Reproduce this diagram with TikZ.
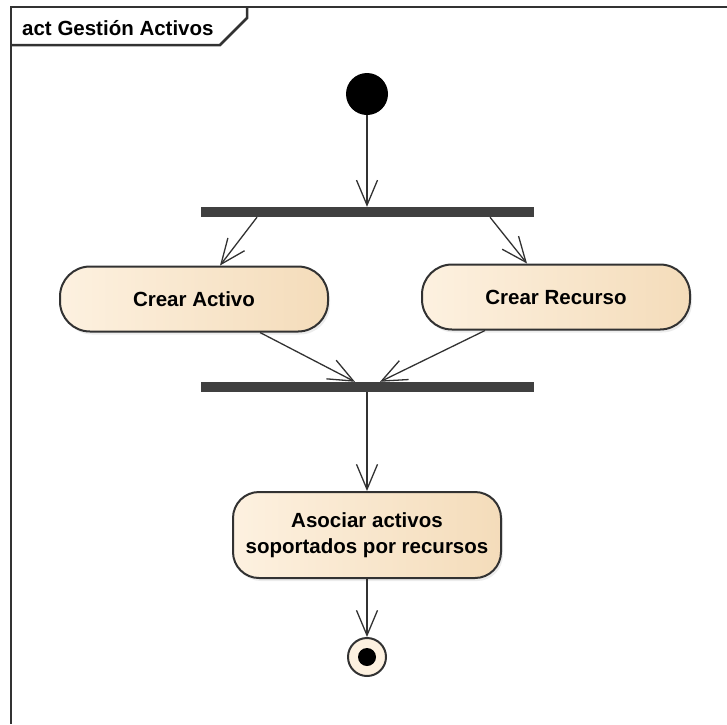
\documentclass[tikz,border=0pt]{standalone}
\usepackage{fontspec}
\setmainfont{Liberation Sans}
\usetikzlibrary{arrows.meta,shadows}

\definecolor{actfillL}{RGB}{253,241,224}
\definecolor{actfillR}{RGB}{244,220,186}
\definecolor{linegray}{RGB}{50,50,50}
\definecolor{bargray}{RGB}{64,64,64}

\newcommand{\actfont}{\fontsize{20.5}{26}\selectfont\bfseries}

\tikzstyle{action}=[rectangle,rounded corners=30pt,draw=linegray,line width=2pt,left color=actfillL,right color=actfillR,minimum height=65pt,inner sep=0pt,align=center,font=\actfont,drop shadow={shadow xshift=2pt,shadow yshift=-3pt,opacity=0.15}]
\tikzstyle{bar}=[rectangle,fill=bargray,minimum width=333pt,minimum height=10pt,inner sep=0pt]
\tikzstyle{edge} = [draw,line width=1.3pt,linegray,-{Straight Barb[length=25pt,width=21pt]}]
\tikzstyle{frame} = [draw,line width=2.5pt,linegray]

\begin{document}
\begin{tikzpicture}[x=1pt,y=-1pt]
     \useasboundingbox (0,0) rectangle (727,724);

     % frame and title tab
     \draw[frame] (727,7) -- (11,7) -- (11,724);
     \draw[frame] (11,45) -- (220,45) -- (247,18) -- (247,7);
     \node[anchor=west,font=\actfont,inner sep=0pt] (title) at (22,28) {act Gestión Activos};

     \node[circle,fill=black,minimum size=42pt,inner sep=0pt] (ini) at (367,94) {};
     \node[bar] (fork) at (367,212) {};
     \node[action,minimum width=268pt] (act) at (194,299) {Crear Activo};
     \node[action,minimum width=268pt] (rec) at (556,297) {Crear Recurso};
     \node[bar] (join) at (367,387) {};
     \node[action,minimum width=268pt,minimum height=86pt,rounded corners=26pt] (asoc) at (367,535) {Asociar activos\\soportados por recursos};
     \node[circle,draw=linegray,line width=2pt,fill=actfillL,minimum size=38pt,inner sep=0pt] (fin) at (367,657) {};
     \node[circle,fill=black,minimum size=18pt,inner sep=0pt] (findot) at (fin) {};

     % connector ends on the bars and boxes
     \coordinate (forkL) at ([xshift=-110pt]fork.south);
     \coordinate (forkR) at ([xshift=123pt]fork.south);
     \coordinate (actIn) at ([xshift=26pt]act.north);
     \coordinate (recIn) at ([xshift=-29pt]rec.north);
     \coordinate (actOut) at ([xshift=66pt]act.south);
     \coordinate (recOut) at ([xshift=-71pt]rec.south);
     \coordinate (joinL) at ([xshift=-12pt]join.north);
     \coordinate (joinR) at ([xshift=13pt]join.north);

     \foreach \source/ \dest in {ini/fork, forkL/actIn, forkR/recIn,
       actOut/joinL, recOut/joinR, join/asoc, asoc/fin}
     \path[edge] (\source) -- (\dest);

   \end{tikzpicture}
\end{document}
